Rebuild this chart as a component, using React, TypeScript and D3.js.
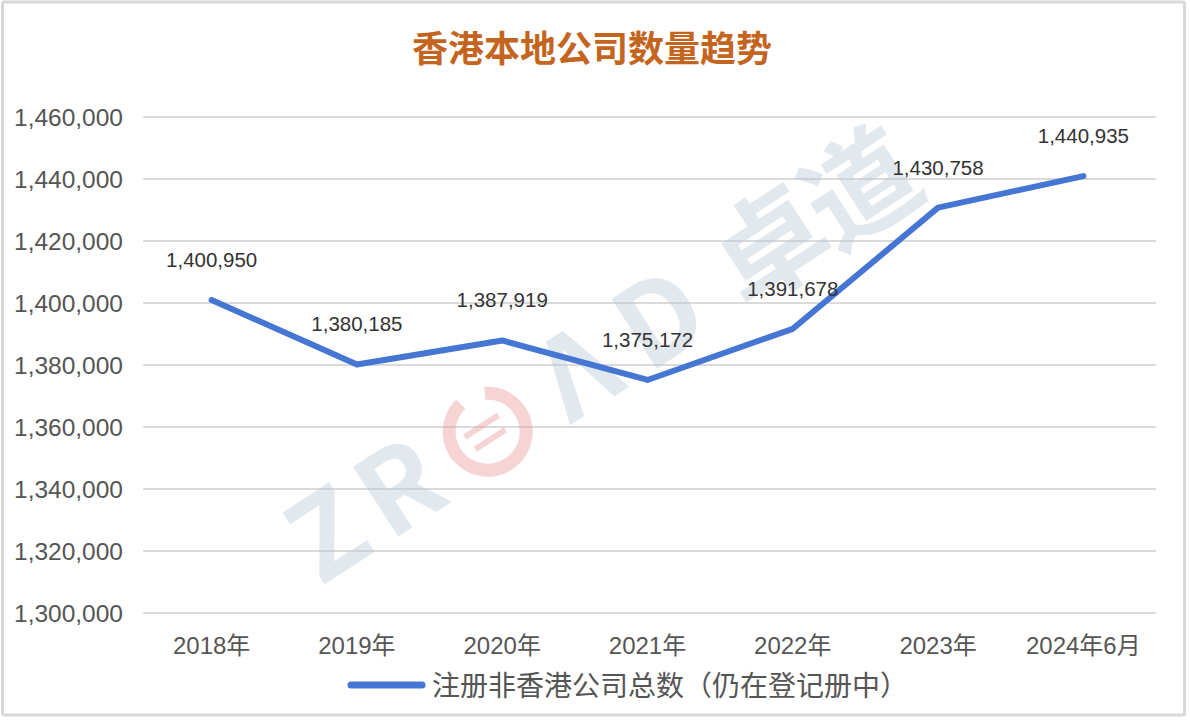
import React from "react";
import * as d3 from "d3";

// chart data
const categories = ["2018年", "2019年", "2020年", "2021年", "2022年", "2023年", "2024年6月"];
const companyCounts = [1400950, 1380185, 1387919, 1375172, 1391678, 1430758, 1440935];
const yTicks = [1300000, 1320000, 1340000, 1360000, 1380000, 1400000, 1420000, 1440000, 1460000];

const title = "香港本地公司数量趋势";
const legendLabel = "注册非香港公司总数（仍在登记册中）";

const W = 1190;
const H = 720;
const FONT = '"Liberation Sans", Arial, "Noto Sans CJK SC", sans-serif';
const CJK = '"Noto Sans CJK SC", "Liberation Sans", sans-serif';
const LINE_COLOR = "#4676d4";

const App: React.FC = () => {
  const x = d3.scaleBand<string>().domain(categories).range([139, 1156]).padding(0);
  const y = d3.scaleLinear().domain([1300000, 1460000]).range([613, 117]);
  const fmt = d3.format(",");
  const cx = (c: string) => (x(c) ?? 0) + x.bandwidth() / 2;

  const line = d3
    .line<number>()
    .x((_, i) => cx(categories[i]))
    .y((d) => y(d));

  // watermark glyphs placed along a rotated axis
  const wm = [
    { t: -318, s: "Z" },
    { t: -232, s: "R" },
    { t: -20, s: "Λ" },
    { t: 78, s: "D" },
    { t: 210, s: "卓" },
    { t: 318, s: "道" },
  ];

  return (
    <svg
      width={W}
      height={H}
      style={{ position: "absolute", left: 0, top: 0, background: "#fff" }}
    >
      <rect x={2.5} y={2} width={1182} height={713} fill="#fff" stroke="#d8d8d8" strokeWidth={3} rx={2} />

      {/* title */}
      <text
        x={592}
        y={62}
        textAnchor="middle"
        fontFamily={CJK}
        fontWeight="bold"
        fontSize={36}
        fill="#c4651f"
      >
        {title}
      </text>

      {/* gridlines */}
      {yTicks.map((t) => (
        <line key={t} x1={143} x2={1156} y1={y(t)} y2={y(t)} stroke="#dadada" strokeWidth={2} />
      ))}

      {/* watermark */}
      <g transform="translate(595,362) rotate(-33)" opacity={0.42}>
        {wm.map((g) => (
          <text
            key={g.s}
            x={g.t}
            y={0}
            dy="0.35em"
            textAnchor="middle"
            fontFamily={CJK}
            fontWeight="bold"
            fontSize={112}
            fill="#b9c9d9"
          >
            {g.s}
          </text>
        ))}
        <path
          d={d3.arc()({ innerRadius: 32, outerRadius: 45, startAngle: 0.5, endAngle: 2 * Math.PI - 0.2 }) ?? ""}
          transform="translate(-128,0)"
          fill="#ee9a9a"
        />
        <line x1={-150} x2={-110} y1={-8} y2={-8} stroke="#ee9a9a" strokeWidth={6} />
        <line x1={-148} x2={-112} y1={8} y2={8} stroke="#ee9a9a" strokeWidth={6} />
      </g>

      {/* y axis labels */}
      {yTicks.map((t) => (
        <text
          key={t}
          x={123}
          y={y(t)}
          dy="0.36em"
          textAnchor="end"
          fontFamily={FONT}
          fontSize={24.5}
          fill="#555"
        >
          {fmt(t)}
        </text>
      ))}

      {/* x axis labels */}
      {categories.map((c) => (
        <text
          key={c}
          x={cx(c)}
          y={654}
          textAnchor="middle"
          fontFamily={FONT}
          fontSize={24}
          fill="#555"
        >
          {c}
        </text>
      ))}

      {/* series line */}
      <path
        d={line(companyCounts) ?? ""}
        fill="none"
        stroke={LINE_COLOR}
        strokeWidth={6}
        strokeLinejoin="round"
        strokeLinecap="round"
      />

      {/* data labels */}
      {companyCounts.map((v, i) => (
        <text
          key={i}
          x={cx(categories[i])}
          y={y(v) - 33}
          textAnchor="middle"
          fontFamily={FONT}
          fontSize={20.5}
          fill="#333"
        >
          {fmt(v)}
        </text>
      ))}

      {/* legend */}
      <line x1={351} x2={422} y1={685} y2={685} stroke={LINE_COLOR} strokeWidth={7} strokeLinecap="round" />
      <text x={432} y={696} fontFamily={CJK} fontSize={28} fill="#555">
        {legendLabel}
      </text>
    </svg>
  );
};

export default App;
